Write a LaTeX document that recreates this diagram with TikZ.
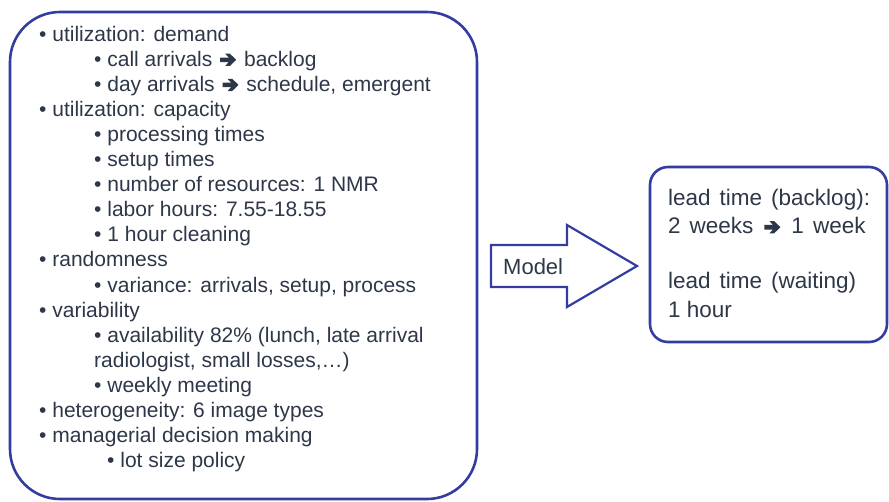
\documentclass[tikz,border=0pt]{standalone}
\usepackage{fontspec}
\setmainfont{Liberation Sans}
\definecolor{frame}{RGB}{52,60,160}
\definecolor{ink}{RGB}{45,55,72}
% heavy right arrow used inside the text lines
\newcommand{\thento}{\hspace{2pt}\begin{tikzpicture}[x=1pt,y=1pt,baseline=0pt]
  \fill[ink] (0,4) -- (8.5,4) -- (5,0.2) -- (9.6,0.2) -- (16,6.3) -- (9.6,12.4) -- (5,12.4) -- (8.5,8.6) -- (0,8.6) -- cycle;
\end{tikzpicture}\hspace{2pt}}
\newcommand{\widesp}{\spaceskip=9pt plus 1pt\relax}
\tikzset{
  panel/.style={draw=frame, line width=2.6pt},
  line/.style={anchor=base west, inner sep=0pt, text=ink, font=\fontsize{21}{25}\selectfont},
  outline/.style={anchor=base west, inner sep=0pt, text=ink, font=\fontsize{22.5}{28}\selectfont},
}
\begin{document}
\begin{tikzpicture}[x=1pt, y=-1pt]
  \useasboundingbox (0,0) rectangle (889,501);

  % input panel: the factors going into the model
  \draw[panel, rounded corners=50pt] (10,12) rectangle (477,499);
  \node[line] (l1)  at (39,41)    {• utilization: demand};
  \node[line] (l2)  at (94,66.1)  {• call arrivals \thento{} backlog};
  \node[line] (l3)  at (94,91.2)  {• day arrivals \thento{} schedule, emergent};
  \node[line] (l4)  at (39,116.3) {• utilization: capacity};
  \node[line] (l5)  at (94,141.4) {• processing times};
  \node[line] (l6)  at (94,166.5) {• setup times};
  \node[line] (l7)  at (94,191.6) {• number of resources: 1 NMR};
  \node[line] (l8)  at (94,216.7) {• labor hours: 7.55-18.55};
  \node[line] (l9)  at (94,241.8) {• 1 hour cleaning};
  \node[line] (l10) at (39,266.9) {• randomness};
  \node[line] (l11) at (94,292)   {• variance: arrivals, setup, process};
  \node[line] (l12) at (39,317.1) {• variability};
  \node[line] (l13) at (94,342.2) {• availability 82\% (lunch, late arrival};
  \node[line] (l14) at (94,367.3) {radiologist, small losses,…)};
  \node[line] (l15) at (94,392.4) {• weekly meeting};
  \node[line] (l16) at (39,417.5) {• heterogeneity: 6 image types};
  \node[line] (l17) at (39,442.6) {• managerial decision making};
  \node[line] (l18) at (107,467.7) {• lot size policy};

  % block arrow labelled Model
  \draw[panel, line width=2.2pt, line join=miter]
    (491,245) -- (567,245) -- (567,225) -- (637,266) -- (567,307) -- (567,287) -- (491,287) -- cycle;
  \node[outline, font=\fontsize{22}{26}\selectfont] (model) at (503,274) {Model};

  % output panel: resulting lead times
  \draw[panel, rounded corners=18pt] (650,167) rectangle (887,342);
  \node[outline] (o1) at (668,205) {\widesp lead time (backlog):};
  \node[outline] (o2) at (668,233.5) {\widesp 2 weeks \thento{} 1 week};
  \node[outline] (o3) at (668,288) {\widesp lead time (waiting)};
  \node[outline] (o4) at (668,317) {1 hour};
\end{tikzpicture}
\end{document}
